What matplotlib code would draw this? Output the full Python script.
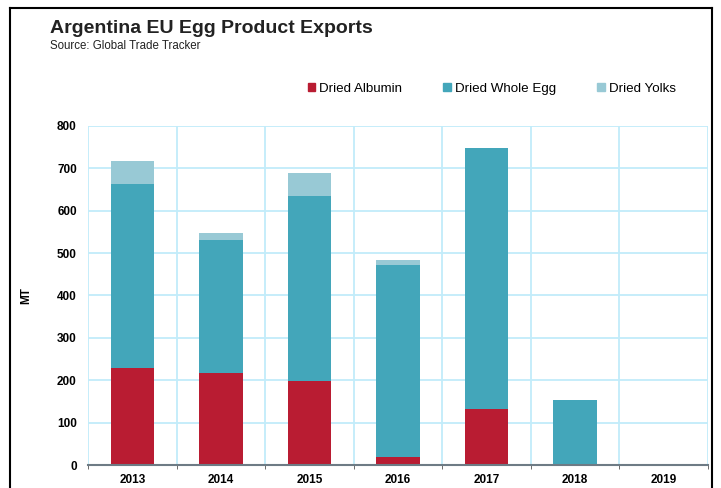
import matplotlib
matplotlib.use("Agg")
import matplotlib.pyplot as plt
from matplotlib.lines import Line2D
from matplotlib.patches import Patch
import numpy as np

years = ["2013", "2014", "2015", "2016", "2017", "2018", "2019"]
albumin = [229, 217, 198, 20, 133, 0, 0]
whole_egg = [434, 314, 436, 452, 615, 153, 0]
yolks = [54, 16, 55, 12, 0, 0, 0]

c_alb = "#B91C32"
c_whole = "#43A6BA"
c_yolk = "#98C9D5"
grid_c = "#C2ECFA"

plt.rcParams['font.family'] = ['Liberation Sans', 'DejaVu Sans']

fig = plt.figure(figsize=(7.21, 4.88), dpi=100)
ax = fig.add_axes([0.122, 0.047, 0.860, 0.695])

x = np.arange(len(years))
w = 0.49
alb = np.array(albumin)
wh = np.array(whole_egg)
yl = np.array(yolks)
ax.bar(x, alb, w, color=c_alb, zorder=3)
ax.bar(x, wh, w, bottom=alb, color=c_whole, zorder=3)
ax.bar(x, yl, w, bottom=alb + wh, color=c_yolk, zorder=3)

ax.set_xlim(-0.5, len(years) - 0.5)
ax.set_ylim(0, 800)
ax.set_yticks(range(0, 801, 100))
ax.set_xticks(x)
ax.set_xticklabels(years, fontweight='bold', fontsize=8.5)
ax.tick_params(axis='x', length=0, pad=6.5)
ax.tick_params(axis='y', length=0, pad=8)
for lab in ax.get_yticklabels():
    lab.set_fontweight('bold')
    lab.set_fontsize(8.5)

# grid
for yv in range(100, 801, 100):
    ax.axhline(yv, color=grid_c, lw=1.3, zorder=1)
for xv in np.arange(-0.5, len(years) + 0.5, 1):
    ax.axvline(xv, color=grid_c, lw=1.3, zorder=1)
ax.set_xticks(np.arange(-0.5, len(years) + 0.5, 1), minor=True)
ax.tick_params(axis='x', which='minor', length=3, color='#555555', direction='out')

for s in ['top', 'right', 'left']:
    ax.spines[s].set_visible(False)
ax.spines['bottom'].set_color('#6E7B85')
ax.spines['bottom'].set_linewidth(1.5)
ax.spines['bottom'].set_zorder(4)

ax.set_ylabel("MT", fontweight='bold', fontsize=8.5, labelpad=18)

fig.text(0.069, 0.941, "Argentina EU Egg Product Exports", fontsize=14,
         fontweight='bold', color='#222222', va='center')
fig.text(0.069, 0.906, "Source: Global Trade Tracker", fontsize=8.3,
         color='#222222', va='center')

handles = [Patch(color=c_alb), Patch(color=c_whole), Patch(color=c_yolk)]
fig.legend(handles, ["Dried Albumin", "Dried Whole Egg", "Dried Yolks"],
           loc='center', bbox_to_anchor=(0.682, 0.818), ncol=3, frameon=False,
           fontsize=9.6, handlelength=0.55, handleheight=0.55, handletextpad=0.3,
           columnspacing=3.1)

# outer frame
fig.add_artist(Line2D([0.0139, 0.0139], [0.0, 0.984], color='black', lw=1.5))
fig.add_artist(Line2D([0.0139, 0.988], [0.984, 0.984], color='black', lw=1.5))
fig.add_artist(Line2D([0.988, 0.988], [0.0, 0.984], color='black', lw=1.5))

fig.savefig("out.png", dpi=100)
